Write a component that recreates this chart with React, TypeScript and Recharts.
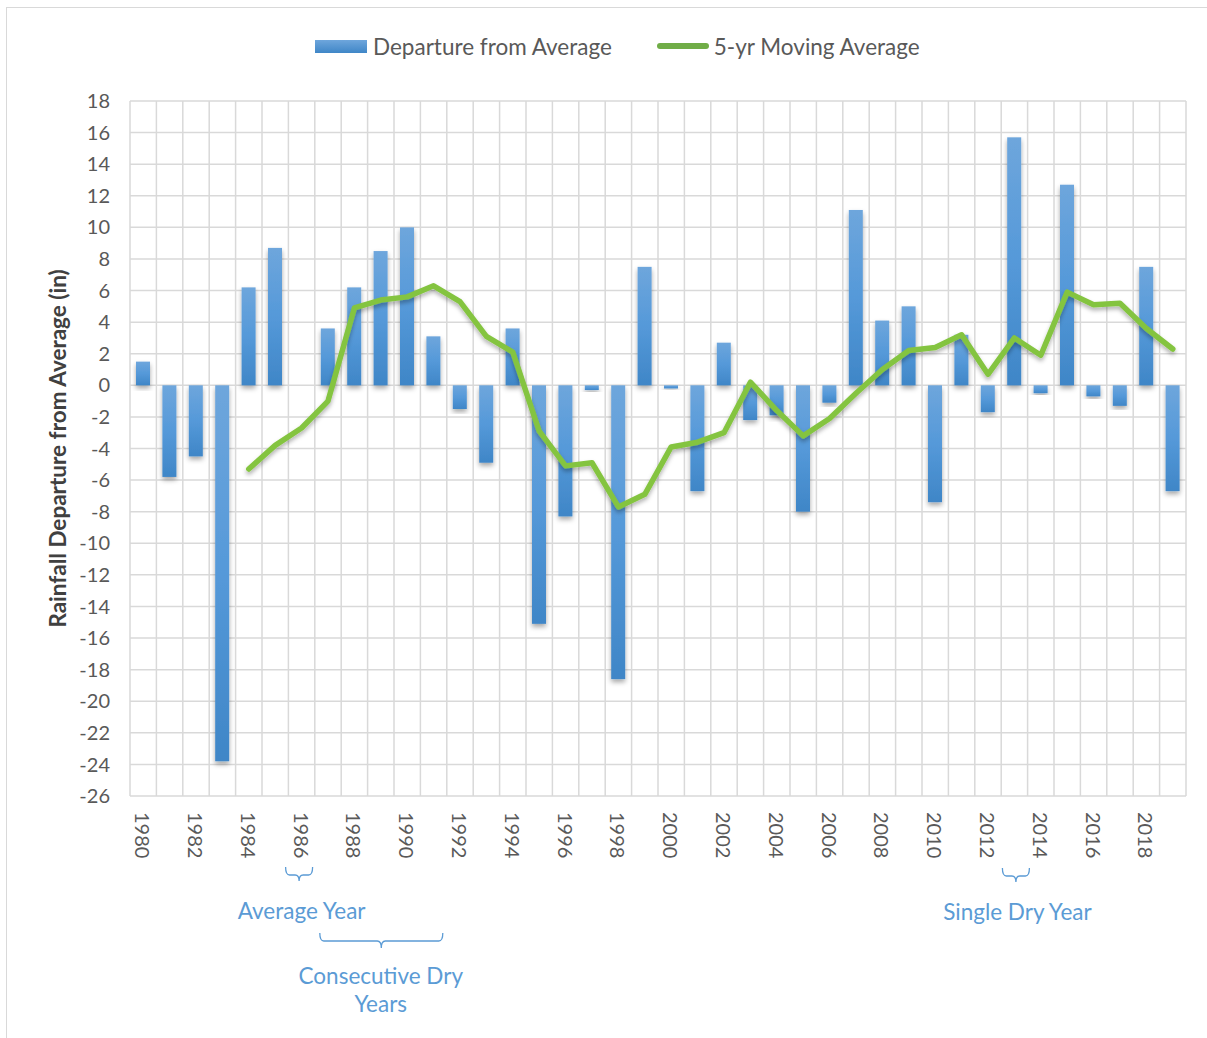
import React from "react";
import {
  ComposedChart,
  Bar,
  Line,
  XAxis,
  YAxis,
  CartesianGrid,
  Legend,
  ReferenceDot,
} from "recharts";

const years = [
  1980, 1981, 1982, 1983, 1984, 1985, 1986, 1987, 1988, 1989,
  1990, 1991, 1992, 1993, 1994, 1995, 1996, 1997, 1998, 1999,
  2000, 2001, 2002, 2003, 2004, 2005, 2006, 2007, 2008, 2009,
  2010, 2011, 2012, 2013, 2014, 2015, 2016, 2017, 2018, 2019,
];

const departure = [
  1.5, -5.8, -4.5, -23.8, 6.2, 8.7, 0, 3.6, 6.2, 8.5,
  10.0, 3.1, -1.5, -4.9, 3.6, -15.1, -8.3, -0.3, -18.6, 7.5,
  -0.2, -6.7, 2.7, -2.2, -1.9, -8.0, -1.1, 11.1, 4.1, 5.0,
  -7.4, 3.2, -1.7, 15.7, -0.5, 12.7, -0.7, -1.3, 7.5, -6.7,
];

const movingAvg = [
  null, null, null, null, -5.3, -3.8, -2.7, -1.0, 4.9, 5.4,
  5.6, 6.3, 5.3, 3.1, 2.1, -2.9, -5.1, -4.9, -7.7, -6.9,
  -3.9, -3.6, -3.0, 0.2, -1.6, -3.2, -2.1, -0.5, 1.0, 2.2,
  2.4, 3.2, 0.7, 3.0, 1.9, 5.9, 5.1, 5.2, 3.6, 2.3,
];

const yTicks = [18, 16, 14, 12, 10, 8, 6, 4, 2, 0, -2, -4, -6, -8, -10, -12, -14, -16, -18, -20, -22, -24, -26];

const seriesNames = { bar: "Departure from Average", line: "5-yr Moving Average" };
const yLabel = "Rainfall Departure from Average (in)";
const annotations = [
  { year: 1986, lines: ["Average Year"] },
  { year: 1989, lines: ["Consecutive Dry", "Years"] },
  { year: 2013, lines: ["Single Dry Year"] },
];

const data = years.map((y, i) => ({ year: y, dep: departure[i], ma: movingAvg[i] }));

const FONT = "Lato, 'Open Sans', sans-serif";
const TEXT = "#595959";
const ANN = "#5b9bd5";
const ANN_SIZE = 22.5;

const XTick = (props: any) => {
  const { x, y, payload } = props;
  return (
    <text
      x={x}
      y={y}
      transform={`rotate(90 ${x} ${y})`}
      textAnchor="start"
      dominantBaseline="central"
      fontFamily={FONT}
      fontSize={20}
      fill={TEXT}
    >
      {payload.value}
    </text>
  );
};

const BarShape = (p: any) => {
  const top = Math.min(p.y, p.y + p.height);
  const h = Math.abs(p.height);
  if (!h) return <g />;
  return (
    <rect
      x={p.x}
      y={top}
      width={p.width}
      height={h}
      fill="url(#barGrad)"
      filter="url(#barShadow)"
    />
  );
};

const YLabel = (props: any) => {
  const vb = props.viewBox || {};
  const cx = vb.x - 13;
  const cy = vb.y + vb.height / 2;
  return (
    <text
      x={cx}
      y={cy}
      transform={`rotate(-90 ${cx} ${cy})`}
      textAnchor="middle"
      dominantBaseline="central"
      fontFamily={FONT}
      fontSize={22.5}
      fontWeight={700}
      fill="#404040"
    >
      {yLabel}
    </text>
  );
};

const brace = (x0: number, x1: number, yTop: number, yMid: number, yTip: number) => {
  const c = (x0 + x1) / 2;
  const r = 4;
  return `M ${x0} ${yTop} Q ${x0} ${yMid} ${x0 + r} ${yMid} L ${c - r} ${yMid} Q ${c} ${yMid} ${c} ${yTip} Q ${c} ${yMid} ${c + r} ${yMid} L ${x1 - r} ${yMid} Q ${x1} ${yMid} ${x1} ${yTop}`;
};

const AnnText = ({ x, y, children }: any) => (
  <text x={x} y={y} textAnchor="middle" dominantBaseline="central" fontFamily={FONT} fontSize={ANN_SIZE} fill={ANN}>
    {children}
  </text>
);

const makeAnn = (kind: number) => (p: any) => {
  const { cx, cy } = p;
  if (cx == null || cy == null) return <g />;
  if (kind === 0) {
    return (
      <g>
        <path d={brace(cx - 16, cx + 11, cy + 71, cy + 79, cy + 85)} fill="none" stroke={ANN} strokeWidth={1.3} />
        <AnnText x={cx} y={cy + 114}>{annotations[0].lines[0]}</AnnText>
      </g>
    );
  }
  if (kind === 1) {
    return (
      <g>
        <path d={brace(cx - 61, cx + 62, cy + 137, cy + 145, cy + 152)} fill="none" stroke={ANN} strokeWidth={1.3} />
        <AnnText x={cx} y={cy + 179}>{annotations[1].lines[0]}</AnnText>
        <AnnText x={cx} y={cy + 207}>{annotations[1].lines[1]}</AnnText>
      </g>
    );
  }
  return (
    <g>
      <path d={brace(cx - 12, cx + 15, cy + 72, cy + 80, cy + 86)} fill="none" stroke={ANN} strokeWidth={1.3} />
      <AnnText x={cx + 3} y={cy + 115}>{annotations[2].lines[0]}</AnnText>
    </g>
  );
};

const LegendContent = () => (
  <div
    style={{
      height: 30,
      display: "flex",
      justifyContent: "flex-start",
      alignItems: "center",
      paddingLeft: 315,
      fontFamily: FONT,
      fontSize: 22.5,
      color: TEXT,
      whiteSpace: "nowrap",
    }}
  >
    <span style={{ display: "inline-block", width: 52, height: 13, background: "linear-gradient(#6ea6dc, #3f86c7)" }} />
    <span style={{ marginLeft: 6 }}>{seriesNames.bar}</span>
    <span style={{ display: "inline-block", width: 52, height: 6, borderRadius: 3, marginLeft: 45, background: "#70ad47" }} />
    <span style={{ marginLeft: 5 }}>{seriesNames.line}</span>
  </div>
);

export default function App() {
  return (
    <div style={{ position: "absolute", left: 0, top: 0, width: 1207, height: 1038, overflow: "hidden", background: "#fff" }}>
      <svg width={0} height={0} style={{ position: "absolute" }}>
        <defs>
          <linearGradient id="barGrad" x1="0" y1="0" x2="0" y2="1">
            <stop offset="0%" stopColor="#6ea6dc" />
            <stop offset="50%" stopColor="#5599d9" />
            <stop offset="100%" stopColor="#3f86c7" />
          </linearGradient>
          <filter id="barShadow" x="-60%" y="-20%" width="220%" height="140%">
            <feDropShadow dx="0" dy="3" stdDeviation="2.5" floodColor="#000" floodOpacity="0.35" />
          </filter>
          <filter id="lineShadow" x="-5%" y="-10%" width="110%" height="130%">
            <feDropShadow dx="0" dy="3" stdDeviation="2" floodColor="#000" floodOpacity="0.3" />
          </filter>
        </defs>
      </svg>
      <div style={{ position: "absolute", left: 6, top: 7, width: 1220, height: 1060, border: "1.5px solid #d9d9d9", boxSizing: "border-box" }} />
      <div style={{ position: "absolute", left: 0, top: 0 }}>
        <ComposedChart
          width={1207}
          height={1038}
          data={data}
          margin={{ top: 71, right: 21, bottom: 162, left: 70 }}
          barSize={14}
        >
          <CartesianGrid
            stroke="#d9d9d9"
            strokeWidth={1.5}
            verticalCoordinatesGenerator={({ offset }: any) =>
              Array.from({ length: years.length + 1 }, (_, i) => offset.left + (i * offset.width) / years.length)
            }
          />
          <XAxis
            dataKey="year"
            type="category"
            interval={1}
            axisLine={false}
            tickLine={false}
            tickMargin={10}
            height={80}
            tick={<XTick />}
          />
          <YAxis
            domain={[-26, 18]}
            ticks={yTicks}
            interval={0}
            width={60}
            axisLine={false}
            tickLine={false}
            tickMargin={14}
            tick={{ fontFamily: FONT, fontSize: 20, fill: TEXT }}
            label={{ content: <YLabel />, position: "left" }}
          />
          <Legend verticalAlign="top" align="left" wrapperStyle={{ top: 31, left: 0, width: 1207 }} content={<LegendContent />} />
          <Bar dataKey="dep" name={seriesNames.bar} fill="#5b9bd5" shape={<BarShape />} isAnimationActive={false} />
          <Line
            dataKey="ma"
            name={seriesNames.line}
            stroke="#84c441"
            strokeWidth={5.5}
            dot={false}
            activeDot={false}
            strokeLinejoin="round"
            strokeLinecap="round"
            filter="url(#lineShadow)"
            isAnimationActive={false}
          />
          <ReferenceDot x={annotations[0].year} y={-26} ifOverflow="visible" shape={makeAnn(0)} />
          <ReferenceDot x={annotations[1].year} y={-26} ifOverflow="visible" shape={makeAnn(1)} />
          <ReferenceDot x={annotations[2].year} y={-26} ifOverflow="visible" shape={makeAnn(2)} />
        </ComposedChart>
      </div>
    </div>
  );
}
